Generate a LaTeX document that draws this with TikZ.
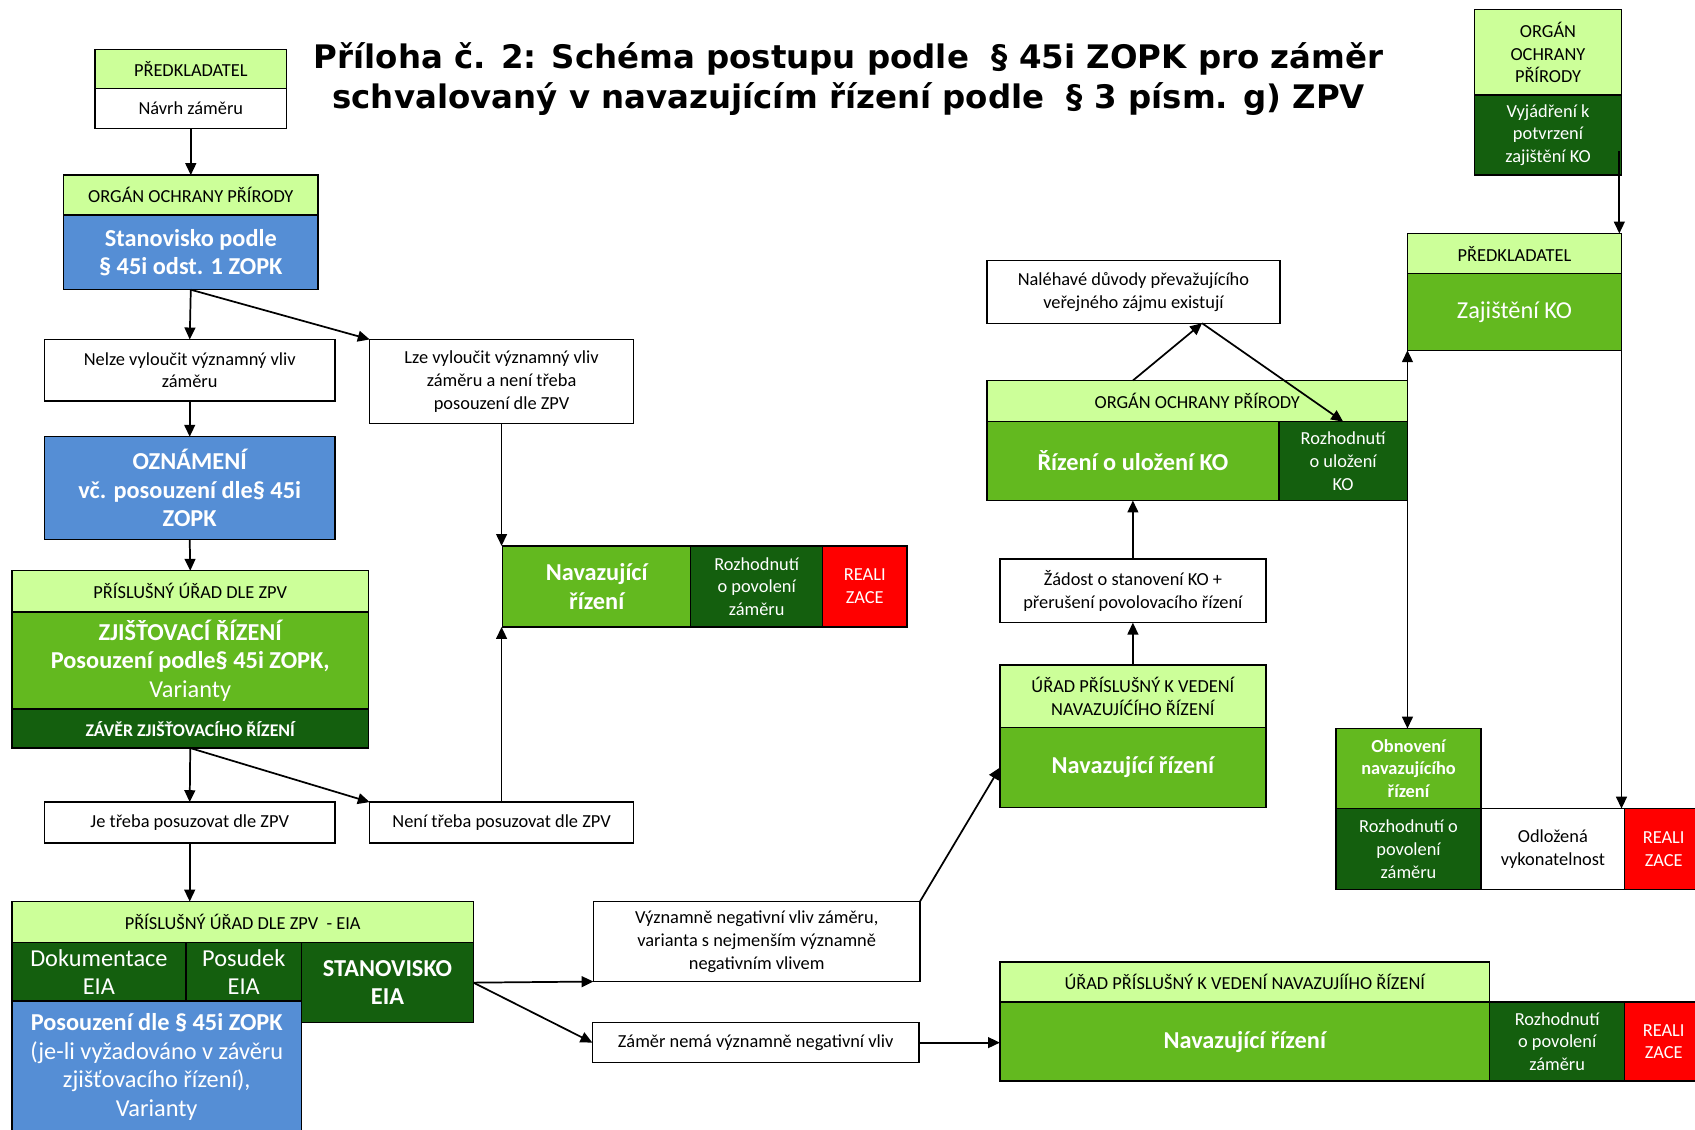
\documentclass[tikz,border=0pt]{standalone}
\usepackage{fontspec}
\setmainfont{Carlito}
\newfontfamily\titlefam{DejaVu Sans}
\usetikzlibrary{arrows.meta}
\definecolor{lgreen}{HTML}{CCFF99}
\definecolor{mgreen}{HTML}{63B91F}
\definecolor{dgreen}{HTML}{145F0E}
\definecolor{bblue}{HTML}{558ED5}
\definecolor{rred}{HTML}{FF0000}
\newcommand\smtxt{\fontsize{17}{21}\selectfont}
\newcommand\bigtxt{\fontsize{22.5}{26.3}\selectfont}
\tikzset{
  bx/.style={draw=black, line width=1.3pt, inner sep=0pt, outer sep=0pt, anchor=north west, align=center, font=\smtxt, fill=white},
  hdr/.style={bx, fill=lgreen},
  bluebx/.style={bx, fill=bblue, text=white, font=\bigtxt\bfseries},
  medbx/.style={bx, fill=mgreen, text=white, font=\bigtxt\bfseries},
  darkbx/.style={bx, fill=dgreen, text=white},
  redbx/.style={bx, fill=rred, text=white},
  arr/.style={-{Triangle[length=11pt,width=10pt]}, line width=1.6pt},
  arrb/.style={{Triangle[length=11pt,width=10pt]}-{Triangle[length=11pt,width=10pt]}, line width=1.6pt},
}
\begin{document}
\begin{tikzpicture}[x=1pt,y=-1pt]
\useasboundingbox (0,0) rectangle (1568,1045);
\fill[white] (0,0) rectangle (1568,1045);
% title
\node[align=center, font=\titlefam\bfseries\fontsize{30}{37}\selectfont] (title) at (785,73)
  {Příloha č. 2: Schéma postupu podle~ § 45i ZOPK pro záměr\\schvalovaný v navazujícím řízení podle~ § 3 písm. g) ZPV};
% A
\node[hdr, minimum width=177, minimum height=36] (Ah) at (88,46) {PŘEDKLADATEL};
\node[bx, minimum width=177, minimum height=37] (Ab) at (88,82) {Návrh záměru};
% B
\node[hdr, minimum width=235, minimum height=37] (Bh) at (59,162) {ORGÁN OCHRANY PŘÍRODY};
\node[bluebx, minimum width=235, minimum height=69] (Bb) at (59,199) {Stanovisko podle\\§ 45i odst. 1 ZOPK};
% C, D
\node[bx, minimum width=269, minimum height=57] (C) at (41,314) {Nelze vyloučit významný vliv\\záměru};
\node[bx, minimum width=244, minimum height=78] (D) at (342,314) {Lze vyloučit významný vliv\\záměru a není třeba\\posouzení dle ZPV};
% E
\node[bluebx, minimum width=269, minimum height=95] (E) at (41,404) {OZNÁMENÍ\\vč. posouzení dle§ 45i\\ZOPK};
% F
\node[hdr, minimum width=330, minimum height=38] (Fh) at (11,528) {PŘÍSLUŠNÝ ÚŘAD DLE ZPV};
\node[medbx, minimum width=330, minimum height=90] (Fb) at (11,566) {ZJIŠŤOVACÍ ŘÍZENÍ\\Posouzení podle§ 45i ZOPK,\\\mdseries Varianty};
\node[darkbx, minimum width=330, minimum height=36, font=\fontsize{16.5}{20}\selectfont\bfseries] (Fd) at (11,656) {ZÁVĚR ZJIŠŤOVACÍHO ŘÍZENÍ};
% G, H
\node[bx, minimum width=269, minimum height=38] (G) at (41,742) {Je třeba posuzovat dle ZPV};
\node[bx, minimum width=244, minimum height=38] (H) at (342,742) {Není třeba posuzovat dle ZPV};
% I
\node[medbx, minimum width=174, minimum height=75] (In) at (465,505) {Navazující\\řízení};
\node[darkbx, minimum width=122, minimum height=75] (Ir) at (639,505) {Rozhodnutí\\o povolení\\záměru};
\node[redbx, minimum width=78, minimum height=75] (Ix) at (761,505) {REALI\\ZACE};
% J
\node[hdr, minimum width=427, minimum height=38] (Jh) at (11,834) {PŘÍSLUŠNÝ ÚŘAD DLE ZPV~ - EIA};
\node[darkbx, minimum width=161, minimum height=54, font=\bigtxt] (Jd) at (11,872) {Dokumentace\\EIA};
\node[darkbx, minimum width=107, minimum height=54, font=\bigtxt] (Jp) at (172,872) {Posudek\\EIA};
\node[darkbx, minimum width=159, minimum height=74, font=\bigtxt\bfseries] (Js) at (279,872) {STANOVISKO\\EIA};
\node[bx, fill=bblue, text=white, font=\bigtxt, minimum width=268, minimum height=122] (Jb) at (11,926)
  {\textbf{Posouzení dle § 45i ZOPK}\\(je-li vyžadováno v závěru\\zjišťovacího řízení),\\Varianty};
% K, L
\node[bx, minimum width=302, minimum height=74] (K) at (549,834) {Významně negativní vliv záměru,\\varianta s nejmenším významně\\negativním vlivem};
\node[bx, minimum width=302, minimum height=37] (L) at (548,946) {Záměr nemá významně negativní vliv};
% M
\node[hdr, minimum width=453, minimum height=37] (Mh) at (925,890) {ÚŘAD PŘÍSLUŠNÝ K VEDENÍ NAVAZUJÍÍHO ŘÍZENÍ};
\node[medbx, minimum width=453, minimum height=73] (Mn) at (925,927) {Navazující řízení};
\node[darkbx, minimum width=125, minimum height=73] (Mr) at (1378,927) {Rozhodnutí\\o povolení\\záměru};
\node[redbx, minimum width=72, minimum height=73] (Mx) at (1503,927) {REALI\\ZACE};
% N
\node[hdr, minimum width=246, minimum height=58] (Nh) at (925,615) {ÚŘAD PŘÍSLUŠNÝ K VEDENÍ\\NAVAZUJÍĆÍHO ŘÍZENÍ};
\node[medbx, minimum width=246, minimum height=74] (Nb) at (925,673) {Navazující řízení};
% O
\node[bx, minimum width=246, minimum height=59] (O) at (925,517) {Žádost o stanovení KO +\\přerušení povolovacího řízení};
% P
\node[hdr, minimum width=389, minimum height=38] (Ph) at (913,352) {ORGÁN OCHRANY PŘÍRODY};
\node[medbx, minimum width=270, minimum height=73] (Pr) at (913,390) {Řízení o uložení KO};
\node[darkbx, minimum width=119, minimum height=73] (Pk) at (1183,390) {Rozhodnutí\\o uložení\\KO};
% Q
\node[bx, minimum width=271, minimum height=58] (Q) at (913,241) {Naléhavé důvody převažujícího\\veřejného zájmu existují};
% R
\node[hdr, minimum width=136, minimum height=79] (Rh) at (1364,9) {ORGÁN\\OCHRANY\\PŘÍRODY};
\node[darkbx, minimum width=136, minimum height=74] (Rb) at (1364,88) {Vyjádření k\\potvrzení\\zajištění KO};
% S
\node[hdr, minimum width=198, minimum height=37] (Sh) at (1302,216) {PŘEDKLADATEL};
\node[bx, fill=mgreen, text=white, font=\bigtxt, minimum width=198, minimum height=71] (Sb) at (1302,253) {Zajištění KO};
% T
\node[bx, fill=mgreen, text=white, font=\smtxt\bfseries, minimum width=134, minimum height=74] (To) at (1236,674) {Obnovení\\navazujícího\\řízení};
\node[darkbx, minimum width=134, minimum height=75] (Tr) at (1236,748) {Rozhodnutí o\\povolení\\záměru};
\node[bx, minimum width=133, minimum height=75] (Tw) at (1370,748) {Odložená\\vykonatelnost};
\node[redbx, minimum width=72, minimum height=75] (Tx) at (1503,748) {REALI\\ZACE};
% connectors
\draw[arr] (Ab.south) -- (Bh.north);
\draw[arr] (Bb.south) -- (C.north);
\draw[arr] (Bb.south) -- (D.north west);
\draw[arr] (C.south) -- (E.north);
\draw[arr] (E.south) -- (Fh.north);
\draw[arr] (Fd.south) -- (G.north);
\draw[arr] (Fd.south) -- (H.north west);
\draw[arr] (D.south) -- (D.south |- In.north);
\draw[arr] (H.north) -- (H.north |- In.south);
\draw[arr] (G.south) -- (G.south |- Jh.north);
\draw[arr] (Js.east) -- (K.south west);
\draw[arr] (Js.east) -- (L.west);
\draw[arr] (L.east) -- (L.east -| Mn.west);
\draw[arr] (K.north east) -- (Nb.west);
\draw[arr] (Nh.north) -- (O.south);
\draw[arr] (O.north) -- (Pr.south);
\coordinate (qtip) at (1112,299);
\draw[arr] (Pr.north |- Ph.north) -- (qtip);
\draw[arr] (qtip) -- (Pk.north);
\coordinate (rstart) at (1498,140);
\draw[arr] (rstart) -- (rstart |- Sh.north);
\draw[arrb] (Sb.south west) -- (Sb.south west |- To.north);
\draw[arr] (Sb.south east) -- (Sb.south east |- Tx.north);
\end{tikzpicture}
\end{document}
